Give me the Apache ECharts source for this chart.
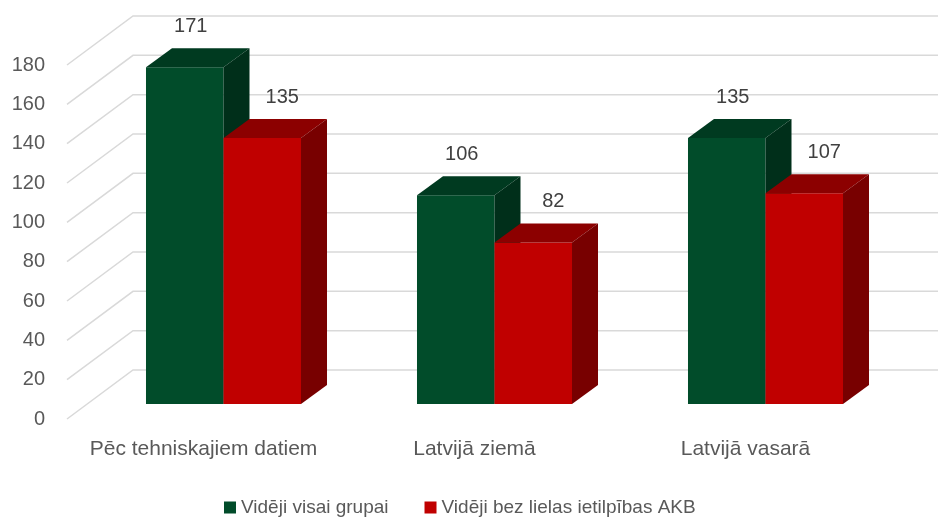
<!DOCTYPE html>
<html>
<head>
<meta charset="utf-8">
<script src="https://cdn.jsdelivr.net/npm/echarts@6/dist/echarts.min.js"></script>
<style>
  html, body { margin: 0; padding: 0; background: #fff; }
  #chart { width: 938px; height: 518px; }
</style>
</head>
<body>
<div id="chart"></div>
<script>
  // dati
  var categories = ['Pēc tehniskajiem datiem', 'Latvijā ziemā', 'Latvijā vasarā'];
  var allGroup = [171, 106, 135];
  var noBigAkb = [135, 82, 107];
  var seriesNames = ['Vidēji visai grupai', 'Vidēji bez lielas ietilpības AKB'];
  var yTicks = [0, 20, 40, 60, 80, 100, 120, 140, 160, 180];

  var FONT = '"Liberation Sans", Arial, sans-serif';
  // 3D look: depth of bars and of the wall
  var DEPTH_X = 26, DEPTH_Y = -19;
  var WALL_DY = -49;
  var colors = [
    { front: '#014C2A', top: '#003A20', side: '#002F1A', labelShift: 6 },
    { front: '#C00000', top: '#8C0000', side: '#780000', labelShift: 20 }
  ];

  function barItem(si) {
    return function (params, api) {
      var idx = api.value(0), v = api.value(1);
      var base = api.coord([idx, 0]);
      var top = api.coord([idx, v]);
      var bw = api.size([1, 0])[0] * 0.286;
      var x0 = base[0] - bw + si * bw;
      var c = colors[si];
      return {
        type: 'group',
        children: [
          { type: 'rect', shape: { x: x0, y: top[1], width: bw, height: base[1] - top[1] },
            style: { fill: c.front } },
          { type: 'polygon', shape: { points: [[x0, top[1]], [x0 + bw, top[1]],
              [x0 + bw + DEPTH_X, top[1] + DEPTH_Y], [x0 + DEPTH_X, top[1] + DEPTH_Y]] },
            style: { fill: c.top } },
          { type: 'polygon', shape: { points: [[x0 + bw, top[1]], [x0 + bw + DEPTH_X, top[1] + DEPTH_Y],
              [x0 + bw + DEPTH_X, base[1] + DEPTH_Y], [x0 + bw, base[1]]] },
            style: { fill: c.side } },
          { type: 'text', style: { text: String(v), x: x0 + bw / 2 + c.labelShift, y: top[1] - 41,
              align: 'center', verticalAlign: 'middle', fill: '#404040', font: '20px ' + FONT } }
        ]
      };
    };
  }

  function wallLine(params, api) {
    var v = api.value(1);
    var p0 = api.coord([0, v]);
    var p1 = api.coord([1, v]);
    var back = [p1[0], p1[1] + WALL_DY];
    return {
      type: 'polyline',
      shape: { points: [p0, back, [api.getWidth(), back[1]]] },
      style: { stroke: '#D9D9D9', lineWidth: 1.5, fill: null }
    };
  }

  var chart = echarts.init(document.getElementById('chart'));
  chart.setOption({
    animation: false,
    backgroundColor: '#fff',
    legend: {
      data: seriesNames,
      icon: 'rect',
      left: 219,
      top: 493,
      itemWidth: 12,
      itemHeight: 12,
      itemGap: 36,
      textStyle: { fontFamily: FONT, fontSize: 19, color: '#595959' }
    },
    grid: [
      { left: 88, right: 37, top: 10, bottom: 114 },
      { left: 67, width: 66, top: 65, bottom: 99 }
    ],
    xAxis: [
      {
        gridIndex: 0, type: 'category', data: categories,
        axisLine: { show: false }, axisTick: { show: false },
        axisLabel: { interval: 0, margin: 35, fontFamily: FONT, fontSize: 21, color: '#595959',
          padding: [0, 40, 0, 0] }
      },
      { gridIndex: 1, type: 'value', min: 0, max: 1, show: false }
    ],
    yAxis: [
      { gridIndex: 0, type: 'value', min: 0, max: 200, show: false },
      {
        gridIndex: 1, type: 'value', min: 0, max: 180, interval: 20,
        axisLine: { show: false }, axisTick: { show: false }, splitLine: { show: false },
        axisLabel: { margin: 22, fontFamily: FONT, fontSize: 20, color: '#595959' }
      }
    ],
    series: [
      {
        type: 'custom', name: 'wall', xAxisIndex: 1, yAxisIndex: 1, z: 1, silent: true,
        data: yTicks.map(function (v) { return [0, v]; }),
        renderItem: wallLine
      },
      {
        type: 'custom', name: seriesNames[0], xAxisIndex: 0, yAxisIndex: 0, z: 2,
        itemStyle: { color: colors[0].front },
        encode: { x: 0, y: 1 },
        data: allGroup.map(function (v, i) { return [i, v]; }),
        renderItem: barItem(0)
      },
      {
        type: 'custom', name: seriesNames[1], xAxisIndex: 0, yAxisIndex: 0, z: 2,
        itemStyle: { color: colors[1].front },
        encode: { x: 0, y: 1 },
        data: noBigAkb.map(function (v, i) { return [i, v]; }),
        renderItem: barItem(1)
      }
    ]
  });
</script>
</body>
</html>
